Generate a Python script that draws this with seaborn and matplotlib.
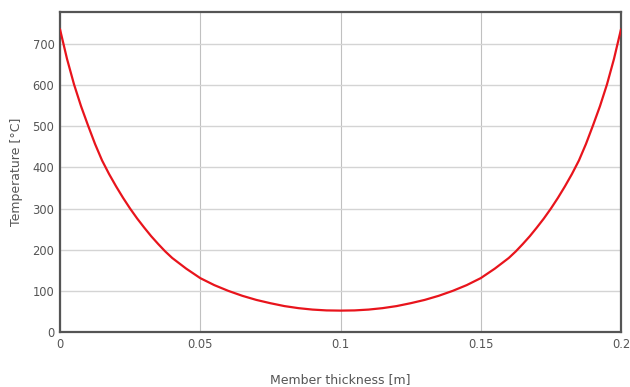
import matplotlib
matplotlib.use("Agg")
import matplotlib.pyplot as plt
import seaborn as sns
import pandas as pd

thickness = [0.0000, 0.0025, 0.0050, 0.0075, 0.0100, 0.0125, 0.0150, 0.0175,
             0.0200, 0.0225, 0.0250, 0.0275, 0.0300, 0.0325, 0.0350, 0.0375,
             0.040, 0.045, 0.050, 0.055, 0.060, 0.065, 0.070, 0.075, 0.080,
             0.085, 0.090, 0.095, 0.100, 0.105, 0.110, 0.115, 0.120, 0.125,
             0.130, 0.135, 0.140, 0.145, 0.150, 0.155, 0.160,
             0.1625, 0.1650, 0.1675, 0.1700, 0.1725, 0.1750, 0.1775, 0.1800,
             0.1825, 0.1850, 0.1875, 0.1900, 0.1925, 0.1950, 0.1975, 0.2000]
temperature = [736, 664, 602, 549, 502, 457, 417, 384,
               354, 326, 300, 276, 254, 233, 214, 196,
               180, 154, 131, 114, 100, 88, 78, 70, 63,
               58, 54.5, 52.5, 52, 52.5, 54.5, 58, 63, 70,
               78, 88, 100, 114, 131, 154, 180,
               196, 214, 233, 254, 276, 300, 326, 354,
               384, 417, 457, 502, 549, 602, 664, 736]
x_ticks = [0, 0.05, 0.1, 0.15, 0.2]
x_tick_labels = ["0", "0.05", "0.1", "0.15", "0.2"]
y_ticks = [0, 100, 200, 300, 400, 500, 600, 700]

df = pd.DataFrame({"thickness": thickness, "temperature": temperature})

sns.set_style("white")
plt.rcParams["font.family"] = ["DejaVu Sans"]

fig = plt.figure(figsize=(6.3, 3.87), dpi=100)
ax = fig.add_axes([60 / 630, 1 - 332 / 387, 561 / 630, 320 / 387])

sns.lineplot(data=df, x="thickness", y="temperature", ax=ax,
             color="#e8141c", linewidth=1.6, zorder=3)
for ln in ax.lines:
    ln.set_solid_joinstyle("round")
    ln.set_solid_capstyle("round")

ax.set_xlim(0, 0.2)
ax.set_ylim(0, 778)
ax.set_xticks(x_ticks)
ax.set_xticklabels(x_tick_labels)
ax.set_yticks(y_ticks)
ax.set_axisbelow(True)
ax.tick_params(axis="both", length=0, labelsize=8.3, colors="#555555", pad=4)
ax.xaxis.grid(True, color="#c0c0c0", linewidth=0.8)
ax.yaxis.grid(True, color="#d4d4d4", linewidth=1.0)

for s in ax.spines.values():
    s.set_visible(True)
    s.set_color("#555555")
    s.set_linewidth(1.6)

ax.set_xlabel("Member thickness [m]", fontsize=9, color="#555555", labelpad=16)
ax.set_ylabel("Temperature [°C]", fontsize=9, color="#555555", labelpad=7)

fig.savefig("out.png", dpi=100, facecolor="white")
